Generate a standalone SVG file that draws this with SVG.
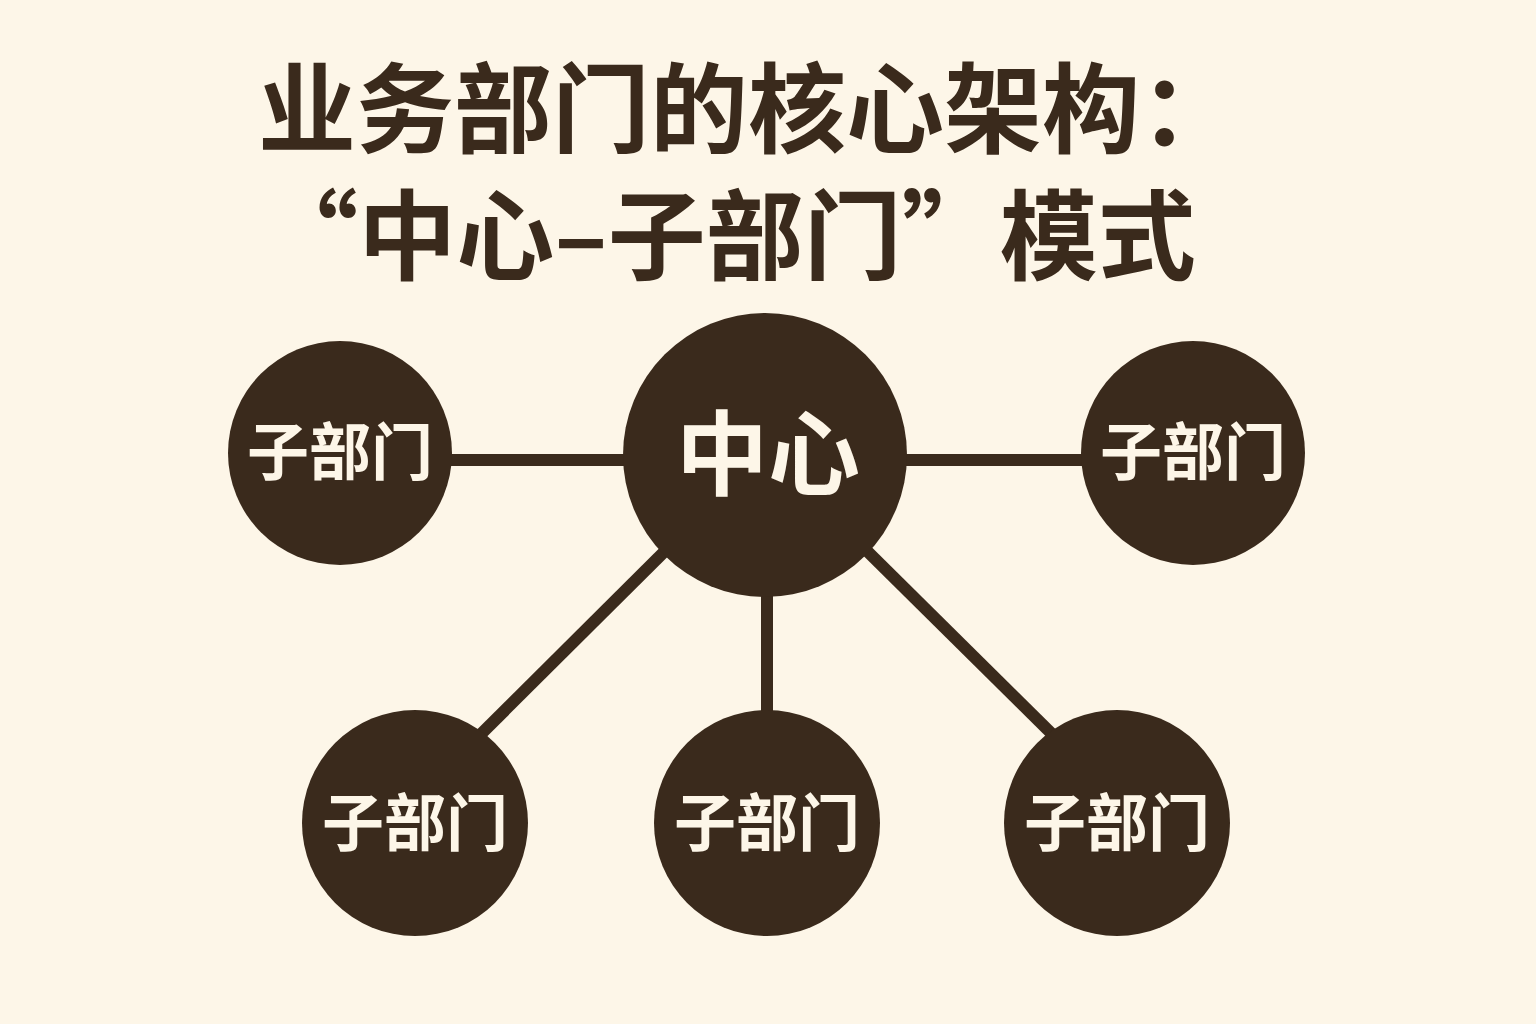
<svg xmlns="http://www.w3.org/2000/svg" width="1536" height="1024" viewBox="0 0 1536 1024">
<style>
.title{font-family:"Noto Sans CJK SC","Noto Sans",sans-serif;font-weight:700;fill:#3A2A1C}
.node{fill:#3A2A1C}
.lbl{font-family:"Noto Sans CJK SC","Noto Sans",sans-serif;font-weight:700;fill:#FDF6E8;text-anchor:middle}
.edge{stroke:#3A2A1C;stroke-width:12;fill:none}
</style>
<rect width="1536" height="1024" fill="#FDF6E8"/>
<g id="title">
<text class="title" x="748" y="145" font-size="98" text-anchor="middle">业务部门的核心架构：</text>
<text class="title" x="728" y="272" font-size="98" text-anchor="middle">“中心–子部门”模式</text>
</g>
<g id="connectors">
<line class="edge" x1="448" y1="460" x2="628" y2="460"/>
<line class="edge" x1="902" y1="460" x2="1085" y2="460"/>
<line class="edge" x1="767" y1="592" x2="767" y2="714"/>
<line class="edge" x1="668" y1="548" x2="478" y2="737"/>
<line class="edge" x1="862" y1="546" x2="1053" y2="735"/>
</g>
<g id="center">
<circle class="node" cx="765" cy="455" r="142"/>
<text class="lbl" x="768" y="488" font-size="92">中心</text>
</g>
<g id="sub-top-left">
<circle class="node" cx="340" cy="453" r="112"/>
<text class="lbl" x="340" y="475" font-size="62">子部门</text>
</g>
<g id="sub-top-right">
<circle class="node" cx="1193" cy="453" r="112"/>
<text class="lbl" x="1193" y="475" font-size="62">子部门</text>
</g>
<g id="sub-bottom-left">
<circle class="node" cx="415" cy="823" r="113"/>
<text class="lbl" x="415" y="846" font-size="62">子部门</text>
</g>
<g id="sub-bottom-middle">
<circle class="node" cx="767" cy="823" r="113"/>
<text class="lbl" x="767" y="846" font-size="62">子部门</text>
</g>
<g id="sub-bottom-right">
<circle class="node" cx="1117" cy="823" r="113"/>
<text class="lbl" x="1117" y="846" font-size="62">子部门</text>
</g>
</svg>
